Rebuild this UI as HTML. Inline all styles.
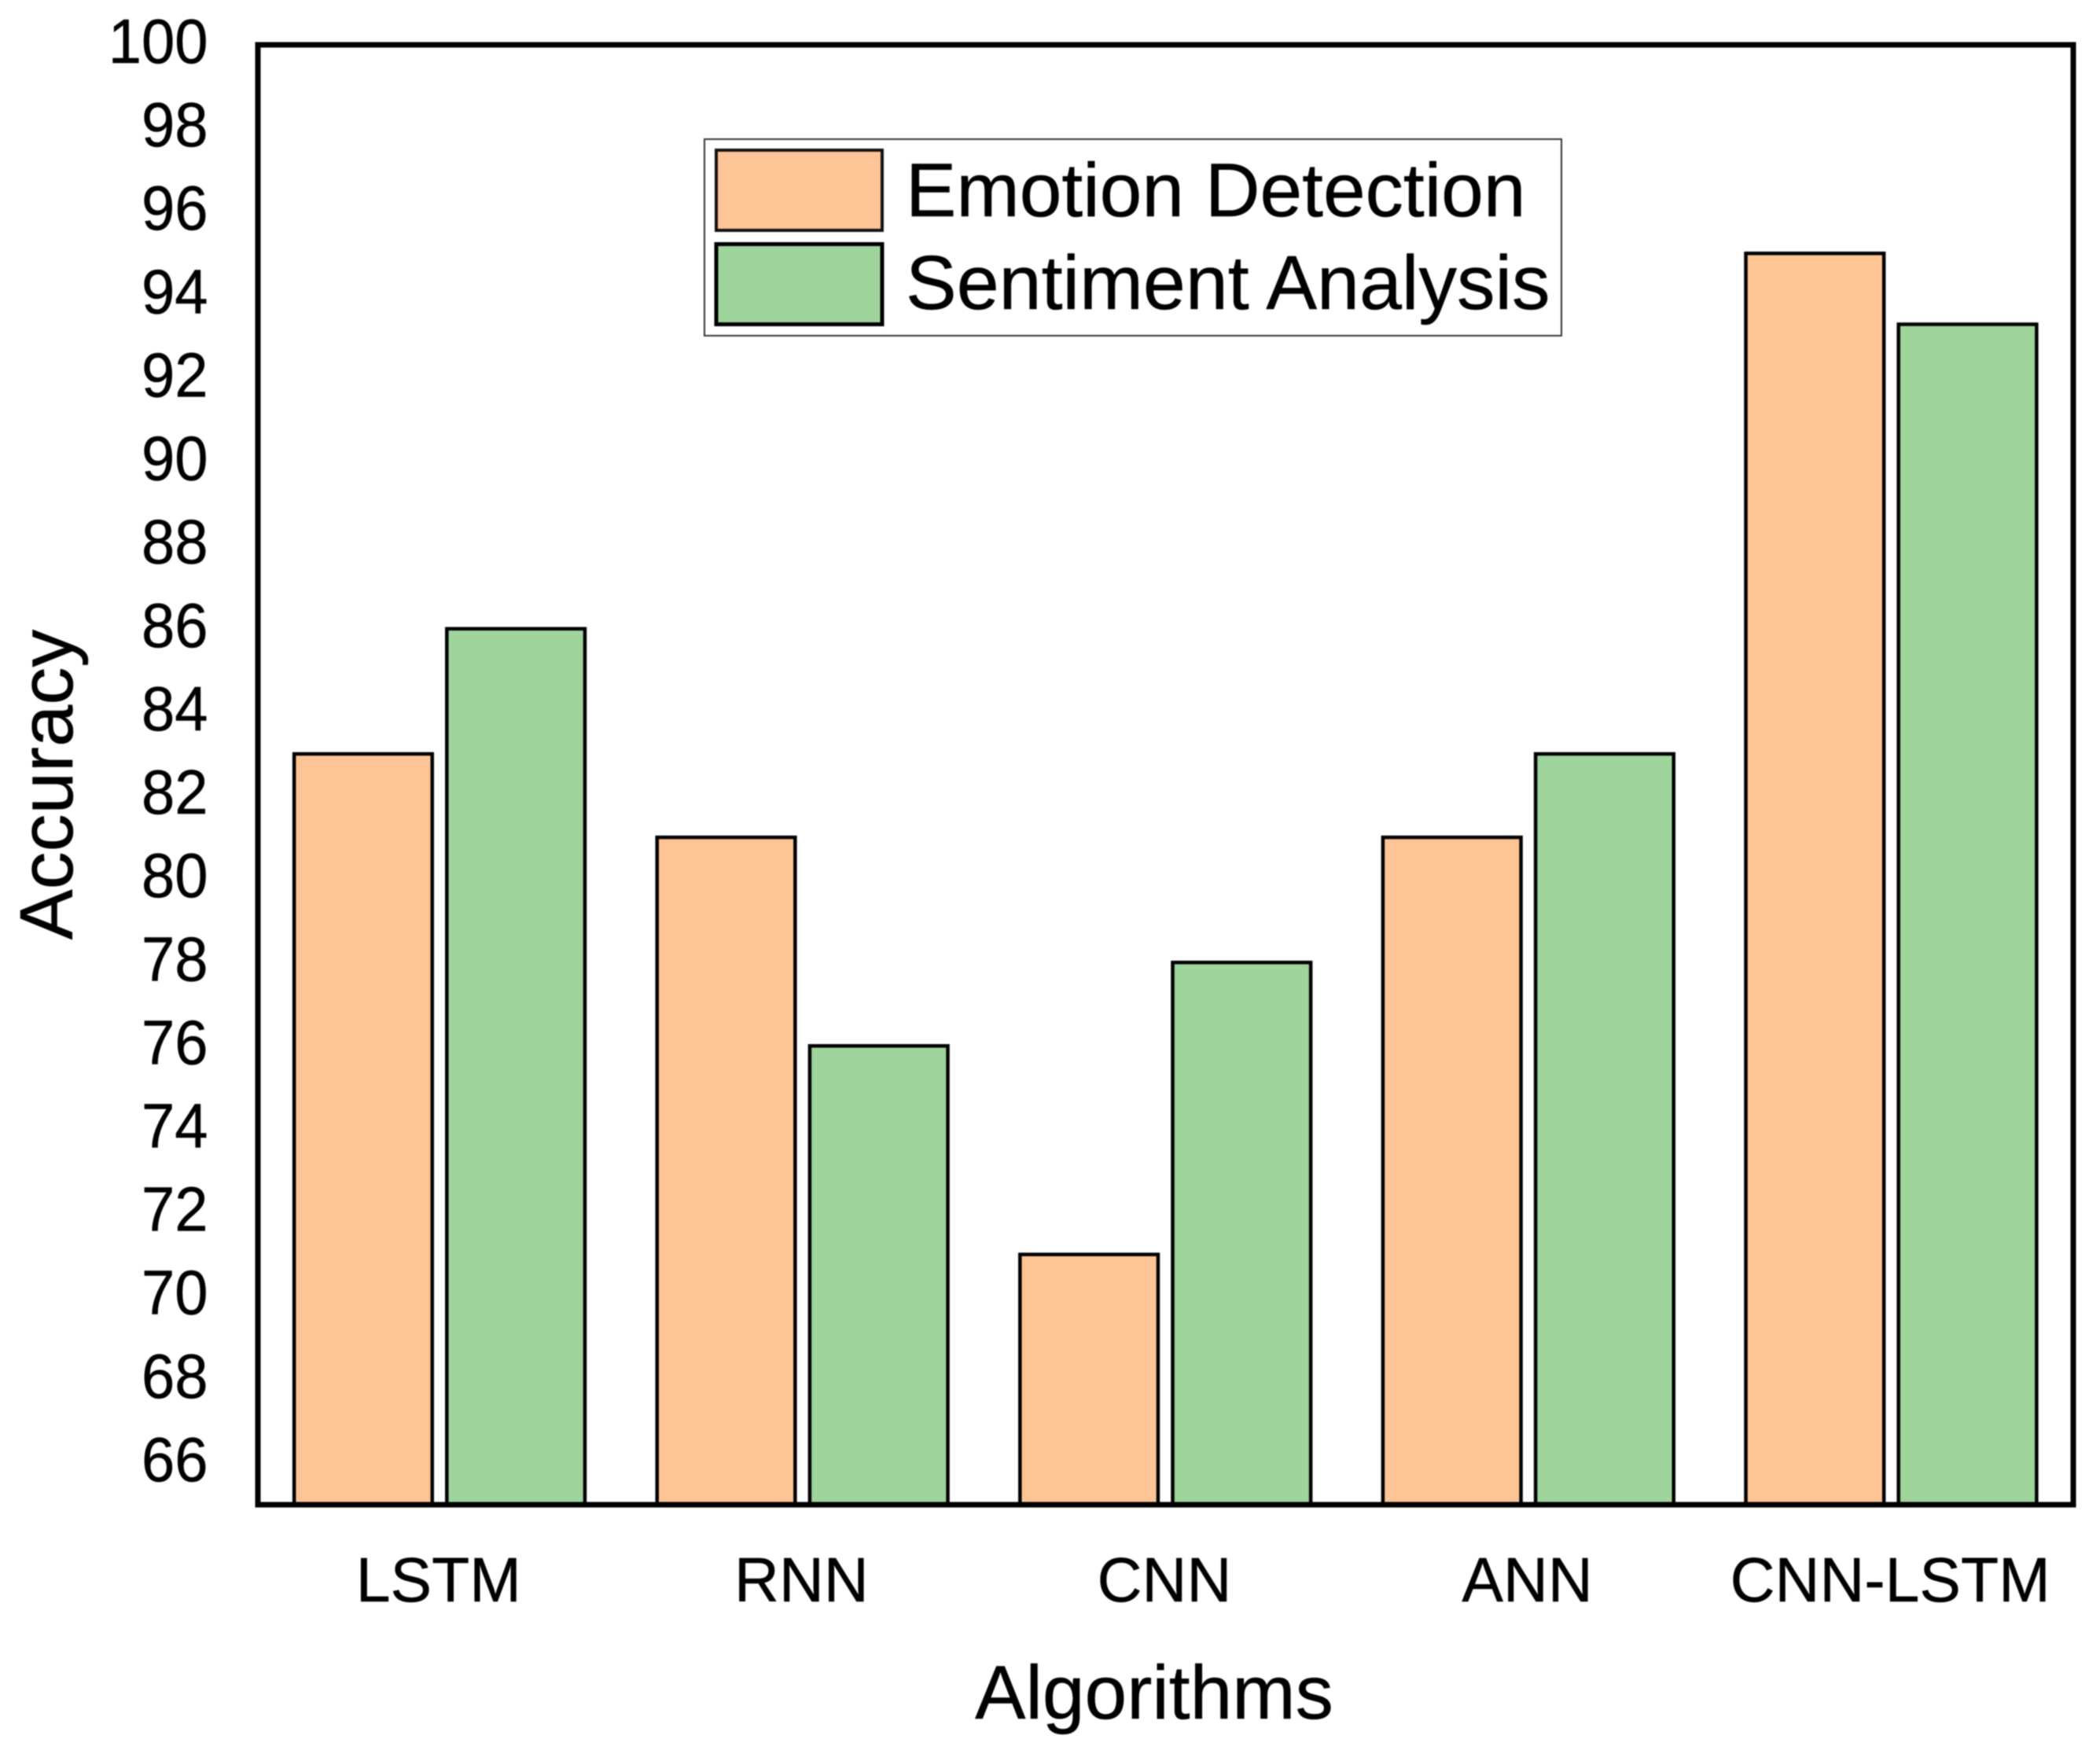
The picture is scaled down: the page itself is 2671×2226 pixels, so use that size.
<!DOCTYPE html>
<html lang="en">
<head>
<meta charset="utf-8">
<title>Accuracy by Algorithm</title>
<style>
html,body{margin:0;padding:0;background:#fff;}
svg{display:block;font-family:"Liberation Sans",sans-serif;fill:#000;filter:blur(0.7px);}
text{stroke:#000;stroke-width:0.5px;}
</style>
</head>
<body>
<svg id="chart" xmlns="http://www.w3.org/2000/svg" width="2671" height="2226" viewBox="0 0 2671 2226">
  <rect x="0" y="0" width="2671" height="2226" fill="#ffffff"/>
  <g id="bars"></g>
  <rect x="328" y="57" width="2309" height="1857" fill="none" stroke="#000" stroke-width="7"/>
  <g id="y-ticks"></g>
  <g id="x-ticks"></g>
  <text transform="translate(92 998) rotate(-90)" text-anchor="middle" font-size="96">Accuracy</text>
  <text x="1468" y="2186" text-anchor="middle" font-size="96.5">Algorithms</text>
  <g>
    <rect x="896" y="177" width="1090" height="250" fill="#fff" stroke="#333" stroke-width="2"/>
    <rect x="911" y="191" width="211" height="102" fill="#FDC596" stroke="#111" stroke-width="4"/>
    <rect x="911" y="310.5" width="211" height="102" fill="#9FD59C" stroke="#000" stroke-width="5"/>
    <text x="1152" y="275" font-size="96.5">Emotion Detection</text>
    <text x="1152" y="393" font-size="97">Sentiment Analysis</text>
  </g>
</svg>
<script>
const categories = ["LSTM", "RNN", "CNN", "ANN", "CNN-LSTM"];
const emotionDetection = [83, 81, 71, 81, 95];
const sentimentAnalysis = [86, 76, 78, 83, 93.3];
const yTickLabels = [100, 98, 96, 94, 92, 90, 88, 86, 84, 82, 80, 78, 76, 74, 72, 70, 68, 66];

const NS = "http://www.w3.org/2000/svg";
const plot = { left: 329, right: 2637, top: 57, bottom: 1914 };
const yDomain = { min: 65, max: 100 };
const bandWidth = (plot.right - plot.left) / categories.length;
const barWidth = bandWidth * 0.3805;
const emotionOffset = bandWidth * -0.40225;
const sentimentOffset = bandWidth * 0.01845;

function yScale(v) {
  return plot.bottom - (v - yDomain.min) / (yDomain.max - yDomain.min) * (plot.bottom - plot.top);
}
function xCenter(i) {
  return plot.left + bandWidth * (i + 0.5);
}

const barsGroup = document.getElementById("bars");
const yGroup = document.getElementById("y-ticks");
const xGroup = document.getElementById("x-ticks");

function addBar(i, value, offset, fill, seriesName) {
  const r = document.createElementNS(NS, "rect");
  r.setAttribute("x", xCenter(i) + offset);
  r.setAttribute("y", yScale(value));
  r.setAttribute("width", barWidth);
  r.setAttribute("height", plot.bottom - yScale(value));
  r.setAttribute("fill", fill);
  r.setAttribute("stroke", "#000");
  r.setAttribute("stroke-width", "4.5");
  
  
  barsGroup.appendChild(r);
}

categories.forEach(function (c, i) {
  addBar(i, emotionDetection[i], emotionOffset, "#FDC596", "emotion-detection");
  addBar(i, sentimentAnalysis[i], sentimentOffset, "#9FD59C", "sentiment-analysis");

  const t = document.createElementNS(NS, "text");
  t.setAttribute("transform", "translate(" + (xCenter(i) - 2) + " 2037) scale(0.985 1)");
  t.setAttribute("text-anchor", "middle");
  t.setAttribute("font-size", "80");
  t.textContent = c;
  
  
  xGroup.appendChild(t);
});

yTickLabels.forEach(function (v) {
  const t = document.createElementNS(NS, "text");
  t.setAttribute("transform", "translate(264.5 " + (yScale(v) + 23) + ") scale(0.95 1)");
  t.setAttribute("text-anchor", "end");
  t.setAttribute("font-size", "80");
  t.textContent = v;
  
  
  yGroup.appendChild(t);
});
</script>
</body>
</html>
